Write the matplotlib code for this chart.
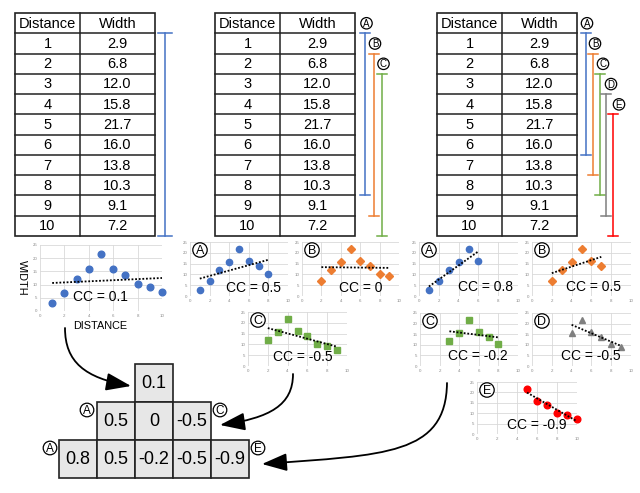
import numpy as np
import matplotlib
matplotlib.use('Agg')
import matplotlib.pyplot as plt
from matplotlib.patches import Rectangle, Circle, FancyArrowPatch
from matplotlib.path import Path

plt.rcParams['font.family'] = ['Liberation Sans', 'DejaVu Sans']

# ---------------- data ----------------
distance = [1, 2, 3, 4, 5, 6, 7, 8, 9, 10]
width = [2.9, 6.8, 12.0, 15.8, 21.7, 16.0, 13.8, 10.3, 9.1, 7.2]

full_cc = 0.1

win8_labels = ['A', 'B', 'C']
win8_ranges = [(1, 8), (2, 9), (3, 10)]
win8_plot_start = [1, 2, 2]          # x position of first point as drawn in the panels
win8_cc = [0.5, 0, -0.5]

win6_labels = ['A', 'B', 'C', 'D', 'E']
win6_ranges = [(1, 6), (2, 7), (3, 8), (4, 9), (5, 10)]
win6_plot_start = [1, 2, 3, 4, 5]
win6_cc = [0.8, 0.5, -0.2, -0.5, -0.9]

x_ticks = [0, 2, 4, 6, 8, 10]
y_ticks = [0, 5, 10, 15, 20, 25]

# ---------------- styles ----------------
colors = {'A': '#4472C4', 'B': '#ED7D31', 'C': '#70AD47', 'D': '#7F7F7F', 'E': '#FF0000'}
markers = {'A': 'o', 'B': 'D', 'C': 's', 'D': '^', 'E': 'o'}
msizes = {'A': 4.5, 'B': 4.0, 'C': 4.2, 'D': 4.8, 'E': 4.8}

W, H = 640, 493
fig = plt.figure(figsize=(6.4, 4.93), dpi=100)


def ax_at(x0, y0, x1, y1):
    return fig.add_axes([x0 / W, 1 - y1 / H, (x1 - x0) / W, (y1 - y0) / H])


def scatter_panel(rect, xs, ys, label, ms=None):
    ax = ax_at(*rect)
    ax.set_xlim(0, 10)
    ax.set_ylim(0, 25)
    ax.set_xticks(x_ticks)
    ax.set_yticks(y_ticks)
    ax.grid(True, color='#d9d9d9', lw=0.6)
    ax.set_axisbelow(True)
    for s in ax.spines.values():
        s.set_visible(False)
    ax.tick_params(length=0, labelsize=3.2, labelcolor='#8a8a8a', pad=2)
    c = colors[label]
    ax.plot(xs, ys, ls='none', marker=markers[label], color=c, mec=c,
            ms=ms if ms else msizes[label], zorder=3, clip_on=False)
    m, b = np.polyfit(xs, ys, 1)
    xx = np.array([min(xs), max(xs)], dtype=float)
    ax.plot(xx, m * xx + b, color='black', ls=(0, (1, 1)), lw=1.3, zorder=4, clip_on=False)
    return ax


# main scatter
scatter_panel((40, 245, 162, 311), distance, width, 'A', ms=4.8)

# window-8 panels
w8_rects = [(190, 242, 288, 296), (302, 242, 399, 296), (248, 312, 347, 366)]
w8_cc_pos = [(226, 288), (339, 288), (273, 357)]
for lab, (a, b), st, rect in zip(win8_labels, win8_ranges, win8_plot_start, w8_rects):
    ys = width[a - 1:b]
    xs = list(range(st, st + len(ys)))
    scatter_panel(rect, xs, ys, lab)

# window-6 panels
w6_rects = [(419, 242, 518, 296), (532, 242, 631, 296), (420, 313, 518, 366),
            (532, 313, 631, 366), (477, 382, 577, 434)]
w6_cc_pos = [(458, 287), (566, 287), (448, 356), (561, 356), (507, 425)]
for lab, (a, b), st, rect in zip(win6_labels, win6_ranges, win6_plot_start, w6_rects):
    ys = width[a - 1:b]
    xs = list(range(st, st + len(ys)))
    scatter_panel(rect, xs, ys, lab)

# ---------------- overlay ----------------
ov = fig.add_axes([0, 0, 1, 1], zorder=10)
ov.set_xlim(0, W)
ov.set_ylim(H, 0)
ov.axis('off')


def circ_label(x, y, r, letter, fs):
    ov.add_patch(Circle((x, y), r, fc='white', ec='black', lw=0.9, zorder=5))
    ov.text(x, y + 0.6, letter, ha='center', va='center', fontsize=fs, zorder=6)


TOP = 13
RH = 20.27


def draw_table(x0, x1, xd):
    n = len(distance) + 1
    bottom = TOP + RH * n
    ov.add_patch(Rectangle((x0, TOP), x1 - x0, bottom - TOP, fill=False, ec='#222222', lw=1.2))
    for i in range(1, n):
        y = TOP + RH * i
        ov.plot([x0, x1], [y, y], color='#222222', lw=1.1)
    ov.plot([xd, xd], [TOP, bottom], color='#222222', lw=1.1)
    ov.text((x0 + xd) / 2, TOP + RH / 2 + 0.5, 'Distance', ha='center', va='center', fontsize=10.5)
    ov.text((xd + x1) / 2, TOP + RH / 2 + 0.5, 'Width', ha='center', va='center', fontsize=10.5)
    for i, (d, w) in enumerate(zip(distance, width)):
        yc = TOP + RH * (i + 1) + RH / 2 + 0.5
        ov.text((x0 + xd) / 2, yc, f'{d}', ha='center', va='center', fontsize=10.5)
        ov.text((xd + x1) / 2, yc, f'{w:.1f}', ha='center', va='center', fontsize=10.5)


def bracket(x, a, b, color, cap):
    y0 = TOP + RH * a
    y1 = TOP + RH * (b + 1)
    ov.plot([x, x], [y0, y1], color=color, lw=1.1)
    ov.plot([x - cap / 2, x + cap / 2], [y0, y0], color=color, lw=1.1)
    ov.plot([x - cap / 2, x + cap / 2], [y1, y1], color=color, lw=1.1)
    return y0


draw_table(15, 155, 80)
draw_table(215, 355, 280)
draw_table(437, 577, 502)

bracket(165, 1, 10, colors['A'], 14)

for i, (lab, (a, b)) in enumerate(zip(win8_labels, win8_ranges)):
    x = 365 + 8.5 * i
    y0 = bracket(x, a, b, colors[lab], 10)
    circ_label(x + 1.5, y0 - 10, 5.7, lab, 7)

for i, (lab, (a, b)) in enumerate(zip(win6_labels, win6_ranges)):
    x = 586 + 6.8 * i
    y0 = bracket(x, a, b, colors[lab], 10)
    circ_label(x + 1 + 1.2 * i, y0 - 10, 5.7, lab, 7)

# panel letters and CC texts
ov.text(73, 297, f'CC = {full_cc:g}', ha='left', va='center', fontsize=10)
ov.text(22, 278, 'WIDTH', rotation=270, ha='center', va='center', fontsize=7.8)
ov.text(100, 326, 'DISTANCE', ha='center', va='center', fontsize=7.8)

for lab, rect, pos, v in zip(win8_labels, w8_rects, w8_cc_pos, win8_cc):
    circ_label(rect[0] + 10, rect[1] + 8, 7.2, lab, 9)
    ov.text(pos[0], pos[1], f'CC = {v:g}', ha='left', va='center', fontsize=10)

for lab, rect, pos, v in zip(win6_labels, w6_rects, w6_cc_pos, win6_cc):
    circ_label(rect[0] + 10, rect[1] + 8, 7.2, lab, 9)
    ov.text(pos[0], pos[1], f'CC = {v:g}', ha='left', va='center', fontsize=10)

# pyramid
CELL = 38
PTOP = 364
PCX = 154
rows = [[full_cc], win8_cc, win6_cc]
for r, vals in enumerate(rows):
    n = len(vals)
    xs0 = PCX - n * CELL / 2
    y = PTOP + r * CELL
    for i, v in enumerate(vals):
        ov.add_patch(Rectangle((xs0 + i * CELL, y), CELL, CELL, fc='#e7e7e7', ec='#222222', lw=1.2))
        ov.text(xs0 + i * CELL + CELL / 2, y + CELL / 2 + 1, f'{v:g}', ha='center', va='center', fontsize=13)
    if r == 1:
        circ_label(xs0 - 10, y + 8, 6.8, win8_labels[0], 8.5)
        circ_label(xs0 + n * CELL + 9, y + 8, 6.8, win8_labels[-1], 8.5)
    if r == 2:
        circ_label(xs0 - 9, y + 8, 6.8, win6_labels[0], 8.5)
        circ_label(xs0 + n * CELL + 9, y + 8, 6.8, win6_labels[-1], 8.5)


def curved_arrow(pts):
    codes = [Path.MOVETO, Path.CURVE4, Path.CURVE4, Path.CURVE4]
    arr = FancyArrowPatch(path=Path(pts, codes),
                          arrowstyle='-|>,head_length=1.4,head_width=0.5',
                          mutation_scale=11, color='black', lw=1.3,
                          transform=ov.transData)
    ov.add_patch(arr)


curved_arrow([(65, 328), (65, 362), (85, 378), (131, 386)])
curved_arrow([(293, 374), (293, 405), (270, 418), (220, 425)])
curved_arrow([(447, 383), (446, 455), (385, 455), (262, 464)])

fig.savefig('out.png', dpi=100)
